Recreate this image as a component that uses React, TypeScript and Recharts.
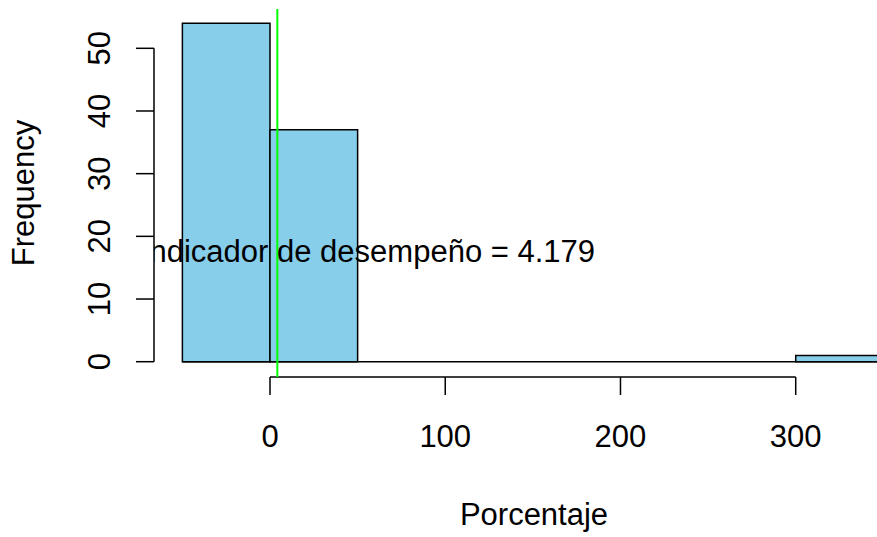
import React from "react";
import {
  ComposedChart,
  XAxis,
  YAxis,
  ReferenceArea,
  ReferenceLine,
  ReferenceDot,
} from "recharts";

// histogram bins
const binStarts = [-50, 0, 50, 100, 150, 200, 250, 300];
const binEnds = [0, 50, 100, 150, 200, 250, 300, 350];
const counts = [54, 37, 0, 0, 0, 0, 0, 1];

const xTicks = [0, 100, 200, 300];
const yTicks = [0, 10, 20, 30, 40, 50];

const indicador = 4.179;
const labelX = 55.9;
const labelY = 18;

const font = "'Liberation Sans', Arial, sans-serif";
const fs = 31;
const yAxisW = 154;

const data = binStarts.map((s, i) => ({ mid: (s + binEnds[i]) / 2, count: counts[i] }));

function XTick({ x, y, payload }: any) {
  return (
    <text x={x} y={y} dy={52} textAnchor="middle" fontFamily={font} fontSize={fs} fill="#000">
      {payload.value}
    </text>
  );
}

function YTick({ x, y, payload }: any) {
  return (
    <text
      x={x}
      y={y}
      textAnchor="middle"
      transform={`rotate(-90, ${x}, ${y})`}
      fontFamily={font}
      fontSize={fs}
      fill="#000"
    >
      {payload.value}
    </text>
  );
}

export default function App() {
  return (
    <div
      style={{
        position: "absolute",
        left: 0,
        top: 0,
        width: 877,
        height: 537,
        overflow: "hidden",
        background: "#fff",
      }}
    >
      <ComposedChart
        width={920}
        height={537}
        data={data}
        margin={{ top: 9, right: 6, bottom: 0, left: 0 }}
      >
        <XAxis
          dataKey="mid"
          type="number"
          domain={[-66.2, 367.5]}
          allowDataOverflow
          ticks={xTicks}
          interval={0}
          height={160}
          axisLine={false}
          tickSize={18}
          tickMargin={0}
          tickLine={{ stroke: "#000", strokeWidth: 1.5 }}
          tick={<XTick />}
          label={{
            content: ({ viewBox }: any) => (
              <text
                x={viewBox.x + viewBox.width / 2}
                y={viewBox.y + 148}
                textAnchor="middle"
                fontFamily={font}
                fontSize={fs}
                fill="#000"
              >
                Porcentaje
              </text>
            ),
          }}
        />
        <YAxis
          type="number"
          domain={[-2.44, 56.27]}
          allowDataOverflow
          ticks={yTicks}
          interval={0}
          width={yAxisW}
          axisLine={false}
          tickSize={18}
          tickMargin={26}
          tickLine={{ stroke: "#000", strokeWidth: 1.5 }}
          tick={<YTick />}
          label={{
            content: ({ viewBox }: any) => {
              const cx = viewBox.x + 34;
              const cy = viewBox.y + viewBox.height / 2;
              return (
                <text
                  x={cx}
                  y={cy}
                  textAnchor="middle"
                  transform={`rotate(-90, ${cx}, ${cy})`}
                  fontFamily={font}
                  fontSize={fs}
                  fill="#000"
                >
                  Frequency
                </text>
              );
            },
          }}
        />
        {/* axis lines, R style: only across the tick range */}
        <ReferenceLine
          segment={[
            { x: xTicks[0], y: -2.44 },
            { x: xTicks[xTicks.length - 1], y: -2.44 },
          ]}
          stroke="#000"
          strokeWidth={1.5}
          ifOverflow="visible"
        />
        <ReferenceLine
          segment={[
            { x: -66.2, y: yTicks[0] },
            { x: -66.2, y: yTicks[yTicks.length - 1] },
          ]}
          stroke="#000"
          strokeWidth={1.5}
          ifOverflow="visible"
        />
        {/* empty bins drawn as flat line */}
        <ReferenceLine
          segment={[
            { x: binStarts[0], y: 0 },
            { x: binEnds[binEnds.length - 1], y: 0 },
          ]}
          stroke="#000"
          strokeWidth={1.5}
        />
        {binStarts.map((s, i) =>
          counts[i] > 0 ? (
            <ReferenceArea
              key={i}
              x1={s}
              x2={binEnds[i]}
              y1={0}
              y2={counts[i]}
              fill="#87CEEB"
              fillOpacity={1}
              stroke="#000"
              strokeWidth={1.5}
              ifOverflow="hidden"
            />
          ) : null
        )}
        <ReferenceLine x={indicador} stroke="#00FF00" strokeWidth={2} />
        <ReferenceDot
          x={labelX}
          y={labelY}
          r={0}
          fill="none"
          stroke="none"
          ifOverflow="hidden"
          label={{
            content: ({ viewBox }: any) => (
              <g>
                <defs>
                  <clipPath id="txt-plot-clip">
                    <rect x={yAxisW} y={0} width={2000} height={537} />
                  </clipPath>
                </defs>
                <text
                  x={viewBox.x + (viewBox.width || 0) / 2}
                  y={viewBox.y + (viewBox.height || 0) / 2}
                  dy={13}
                  textAnchor="middle"
                  fontFamily={font}
                  fontSize={fs}
                  fill="#000"
                  clipPath="url(#txt-plot-clip)"
                >
                  {`Indicador de desempeño = ${indicador}`}
                </text>
              </g>
            ),
          }}
        />
      </ComposedChart>
    </div>
  );
}
